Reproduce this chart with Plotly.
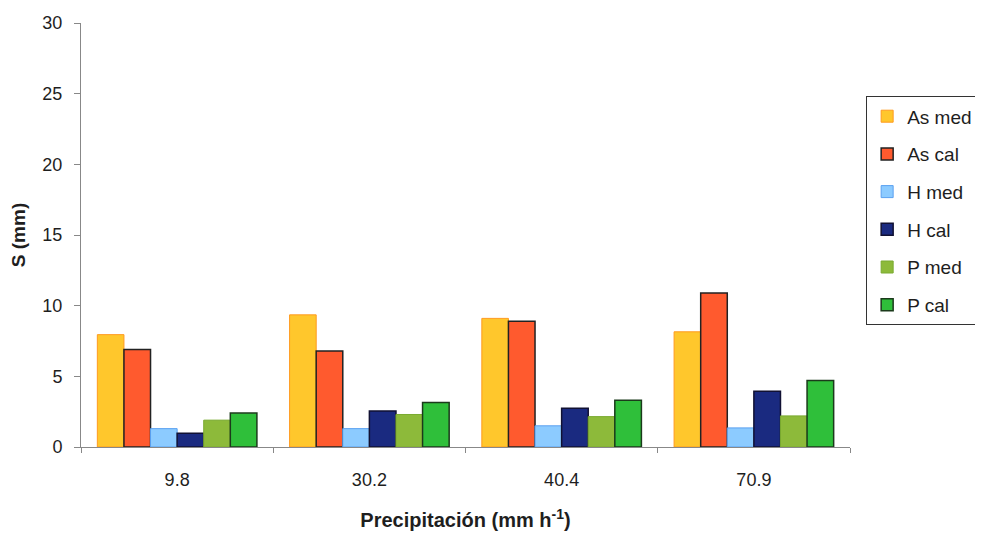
import plotly.graph_objects as go

categories = ["9.8", "30.2", "40.4", "70.9"]
series_names = ["As med", "As cal", "H med", "H cal", "P med", "P cal"]
as_med = [7.95, 9.35, 9.1, 8.15]
as_cal = [6.9, 6.8, 8.9, 10.9]
h_med = [1.3, 1.3, 1.5, 1.35]
h_cal = [0.97, 2.55, 2.75, 3.95]
p_med = [1.9, 2.3, 2.15, 2.2]
p_cal = [2.4, 3.15, 3.3, 4.7]
y_ticks = [0, 5, 10, 15, 20, 25, 30]

values = [as_med, as_cal, h_med, h_cal, p_med, p_cal]
fills = ["#FFC72C", "#FF5A2E", "#8CCBFF", "#1A2A80", "#8DBA3A", "#2FBF3A"]
borders = ["#FF9A1E", "#222222", "#5AA0F0", "#111133", "#7AAA30", "#1B3A1B"]
bwidth = [1, 1.5, 1, 1.5, 1, 1.5]

fig = go.Figure()
for i, (name, vals, f, b, w) in enumerate(zip(series_names, values, fills, borders, bwidth)):
    fig.add_trace(go.Bar(x=categories, y=vals, name=name, legendgroup=f"g{i}",
                         marker=dict(color=f, line=dict(color=b, width=w))))

fig.update_layout(
    width=983, height=533,
    barmode="group", bargap=0.17, bargroupgap=0,
    plot_bgcolor="white", paper_bgcolor="white",
    margin=dict(l=73, r=141, t=15, b=94, autoexpand=False),
    font=dict(family="Liberation Sans, Arial, sans-serif", size=18, color="#1e1e1e"),
    xaxis=dict(showline=True, linecolor="#888888", linewidth=1, automargin=False,
               ticks="outside", tickson="boundaries", ticklen=5, tickcolor="#888888",
               tickfont=dict(size=18), ticklabelstandoff=16,
               title=dict(text="<b>Precipitación (mm h<sup>-1</sup>)</b>", font=dict(size=20), standoff=24)),
    yaxis=dict(range=[0, 30], tickvals=y_ticks, showline=True, linecolor="#888888", linewidth=1,
               automargin=False,
               ticks="outside", ticklen=6, tickcolor="#888888", showgrid=False, zeroline=False,
               tickfont=dict(size=18), ticklabelstandoff=8,
               title=dict(text="<b>S (mm)</b>", font=dict(size=19), standoff=14)),
    legend=dict(x=1.021, y=0.827, xanchor="left", yanchor="top",
                bordercolor="#333333", borderwidth=1, font=dict(size=19),
                tracegroupgap=10, itemwidth=30),
    showlegend=True,
)

fig.write_html("out.html")
